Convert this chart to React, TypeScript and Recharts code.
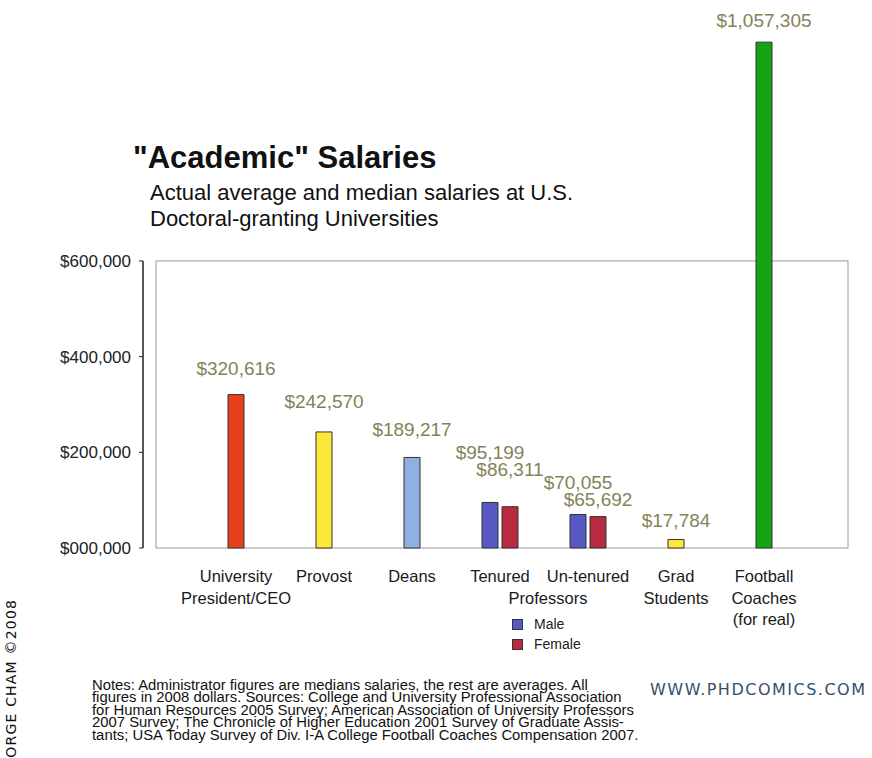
import {
  Bar,
  BarChart,
  Cell,
  LabelList,
  Legend,
  ReferenceArea,
  XAxis,
  YAxis,
} from "recharts";

// values
const categories = [
  "University President/CEO",
  "Provost",
  "Deans",
  "Tenured",
  "Un-tenured",
  "Grad Students",
  "Football Coaches (for real)",
];
const tickLines = [
  ["University", "President/CEO"],
  ["Provost"],
  ["Deans"],
  ["Tenured"],
  ["Un-tenured"],
  ["Grad", "Students"],
  ["Football", "Coaches", "(for real)"],
];
const overall = [320616, 242570, 189217, null, null, 17784, 1057305];
const male = [null, null, null, 95199, 70055, null, null];
const female = [null, null, null, 86311, 65692, null, null];
const yTicks = [0, 200000, 400000, 600000];

const barColors = ["#e8401f", "#fde93a", "#8fb0e0", "#fff", "#fff", "#fde93a", "#16a214"];
const MALE = "#5858c4";
const FEMALE = "#b82a42";

// how far each value label sits above its bar top (px)
const liftOverall = [26, 30, 28, 0, 0, 19, 22];
const liftMale = [0, 0, 0, 50, 32, 0, 0];
const liftFemale = [0, 0, 0, 37, 17, 0, 0];

const FONT = "'Liberation Sans', Arial, Helvetica, sans-serif";

const data = categories.map((name, i) => ({
  name,
  overall: overall[i],
  male: male[i],
  female: female[i],
}));

const money = (v: number) => "$" + v.toLocaleString("en-US");
const yMoney = (v: number) => (v === 0 ? "$000,000" : money(v));

const valueLabel = (values: (number | null)[], lifts: number[]) => (props: any) => {
  const { x, y, width, value } = props;
  if (value == null) return null;
  const i = values.indexOf(Number(value));
  return (
    <text
      x={x + width / 2}
      y={y - (lifts[i] || 24)}
      textAnchor="middle"
      dominantBaseline="central"
      fontSize={19}
      fontFamily={FONT}
      fill="#838358"
    >
      {money(Number(value))}
    </text>
  );
};

const CategoryTick = (props: any) => {
  const { x, y, payload } = props;
  const lines = tickLines[payload.index] || [payload.value];
  return (
    <g>
      {lines.map((l, i) => (
        <text
          key={i}
          x={x}
          y={y}
          dy={-10 + i * 21.5}
          textAnchor="middle"
          dominantBaseline="central"
          fontSize={16.5}
          fontFamily={FONT}
          fill="#1a1a1a"
        >
          {l}
        </text>
      ))}
      {payload.index === 4 && (
        <text
          x={x - 40}
          y={y}
          dy={11.5}
          textAnchor="middle"
          dominantBaseline="central"
          fontSize={16.5}
          fontFamily={FONT}
          fill="#1a1a1a"
        >
          Professors
        </text>
      )}
    </g>
  );
};

const PlotFrame = (p: any) => (
  <g>
    <rect x={156} y={p.y} width={692} height={p.height} fill="none" stroke="#9a9a9a" />
    <line x1={143} x2={143} y1={p.y} y2={p.y + p.height} stroke="#222" strokeWidth={1.5} />
  </g>
);

const GenderLegend = (props: any) => {
  const items = (props.payload || []).filter((e: any) => e.type !== "none");
  const order = ["Male", "Female"];
  items.sort((a: any, b: any) => order.indexOf(a.value) - order.indexOf(b.value));
  return (
    <div style={{ fontFamily: FONT, fontSize: 14, color: "#222" }}>
      {items.map((e: any) => (
        <div key={e.value} style={{ display: "flex", alignItems: "center", height: 20 }}>
          <span
            style={{
              width: 9,
              height: 9,
              background: e.color,
              border: "1px solid #333",
              marginRight: 11,
            }}
          />
          {e.value}
        </div>
      ))}
    </div>
  );
};

export default function App() {
  return (
    <div
      style={{
        position: "absolute",
        left: 0,
        top: 0,
        width: 872,
        height: 758,
        background: "#fff",
        fontFamily: FONT,
        overflow: "hidden",
      }}
    >
      <BarChart
        width={872}
        height={758}
        data={data}
        margin={{ top: 21.7, right: 24, left: 0, bottom: 110 }}
      >
        <XAxis
          xAxisId="s"
          dataKey="name"
          type="category"
          interval={0}
          height={100}
          padding={{ left: 49, right: 40 }}
          axisLine={false}
          tickLine={false}
          tick={<CategoryTick />}
        />
        <XAxis
          xAxisId="p"
          dataKey="name"
          type="category"
          hide
          padding={{ left: 49, right: 40 }}
        />
        <YAxis
          width={143}
          domain={[0, 1100000]}
          ticks={yTicks}
          tickFormatter={yMoney}
          axisLine={false}
          tickLine={{ stroke: "#222" }}
          tickSize={4}
          tickMargin={8}
          tick={{ fontSize: 17, fill: "#222", fontFamily: FONT }}
        />
        <ReferenceArea
          xAxisId="s"
          y1={0}
          y2={600000}
          shape={<PlotFrame />}
        />
        <Bar
          xAxisId="s"
          dataKey="overall"
          barSize={16}
          stroke="#333"
          legendType="none"
          isAnimationActive={false}
        >
          {categories.map((c, i) => (
            <Cell key={c} fill={barColors[i]} />
          ))}
          <LabelList dataKey="overall" content={valueLabel(overall, liftOverall)} />
        </Bar>
        <Bar
          xAxisId="p"
          dataKey="male"
          name="Male"
          fill={MALE}
          stroke="#333"
          barSize={16}
          isAnimationActive={false}
        >
          <LabelList dataKey="male" content={valueLabel(male, liftMale)} />
        </Bar>
        <Bar
          xAxisId="p"
          dataKey="female"
          name="Female"
          fill={FEMALE}
          stroke="#333"
          barSize={16}
          isAnimationActive={false}
        >
          <LabelList dataKey="female" content={valueLabel(female, liftFemale)} />
        </Bar>
        <Legend
          layout="vertical"
          verticalAlign="middle"
          align="center"
          wrapperStyle={{ left: 512, top: 614, width: 90 }}
          content={<GenderLegend />}
        />
      </BarChart>

      <div
        style={{
          position: "absolute",
          left: 133,
          top: 140,
          fontSize: 31,
          fontWeight: "bold",
          color: "#111",
          lineHeight: "36px",
        }}
      >
        "Academic" Salaries
      </div>
      <div
        style={{
          position: "absolute",
          left: 150,
          top: 180,
          fontSize: 22,
          color: "#111",
          lineHeight: "26px",
        }}
      >
        Actual average and median salaries at U.S.
        <br />
        Doctoral-granting Universities
      </div>

      <div
        style={{
          position: "absolute",
          left: 92,
          top: 679,
          fontSize: 14,
          lineHeight: "12.4px",
          color: "#111",
          whiteSpace: "nowrap",
          transformOrigin: "0 0",
          transform: "scaleX(1.06)",
        }}
      >
        Notes: Administrator figures are medians salaries, the rest are averages. All
        <br />
        figures in 2008 dollars. Sources: College and University Professional Association
        <br />
        for Human Resources 2005 Survey; American Association of University Professors
        <br />
        2007 Survey; The Chronicle of Higher Education 2001 Survey of Graduate Assis-
        <br />
        tants; USA Today Survey of Div. I-A College Football Coaches Compensation 2007.
      </div>

      <div
        style={{
          position: "absolute",
          left: 650,
          top: 680,
          fontSize: 16,
          letterSpacing: 1.5,
          color: "#34506c",
          fontFamily: "'DejaVu Sans', sans-serif",
          whiteSpace: "nowrap",
        }}
      >
        WWW.PHDCOMICS.CO<span style={{ letterSpacing: 0 }}>M</span>
      </div>

      <div
        style={{
          position: "absolute",
          left: 12,
          top: 600,
          transformOrigin: "0 0",
          transform: "rotate(-90deg) translate(-200px, -9px)",
          fontSize: 14,
          letterSpacing: 1.2,
          color: "#111",
          fontFamily: "'DejaVu Sans', sans-serif",
          whiteSpace: "nowrap",
          width: 200,
          textAlign: "right",
        }}
      >
        JORGE CHAM ©200<span style={{ letterSpacing: 0 }}>8</span>
      </div>
    </div>
  );
}
